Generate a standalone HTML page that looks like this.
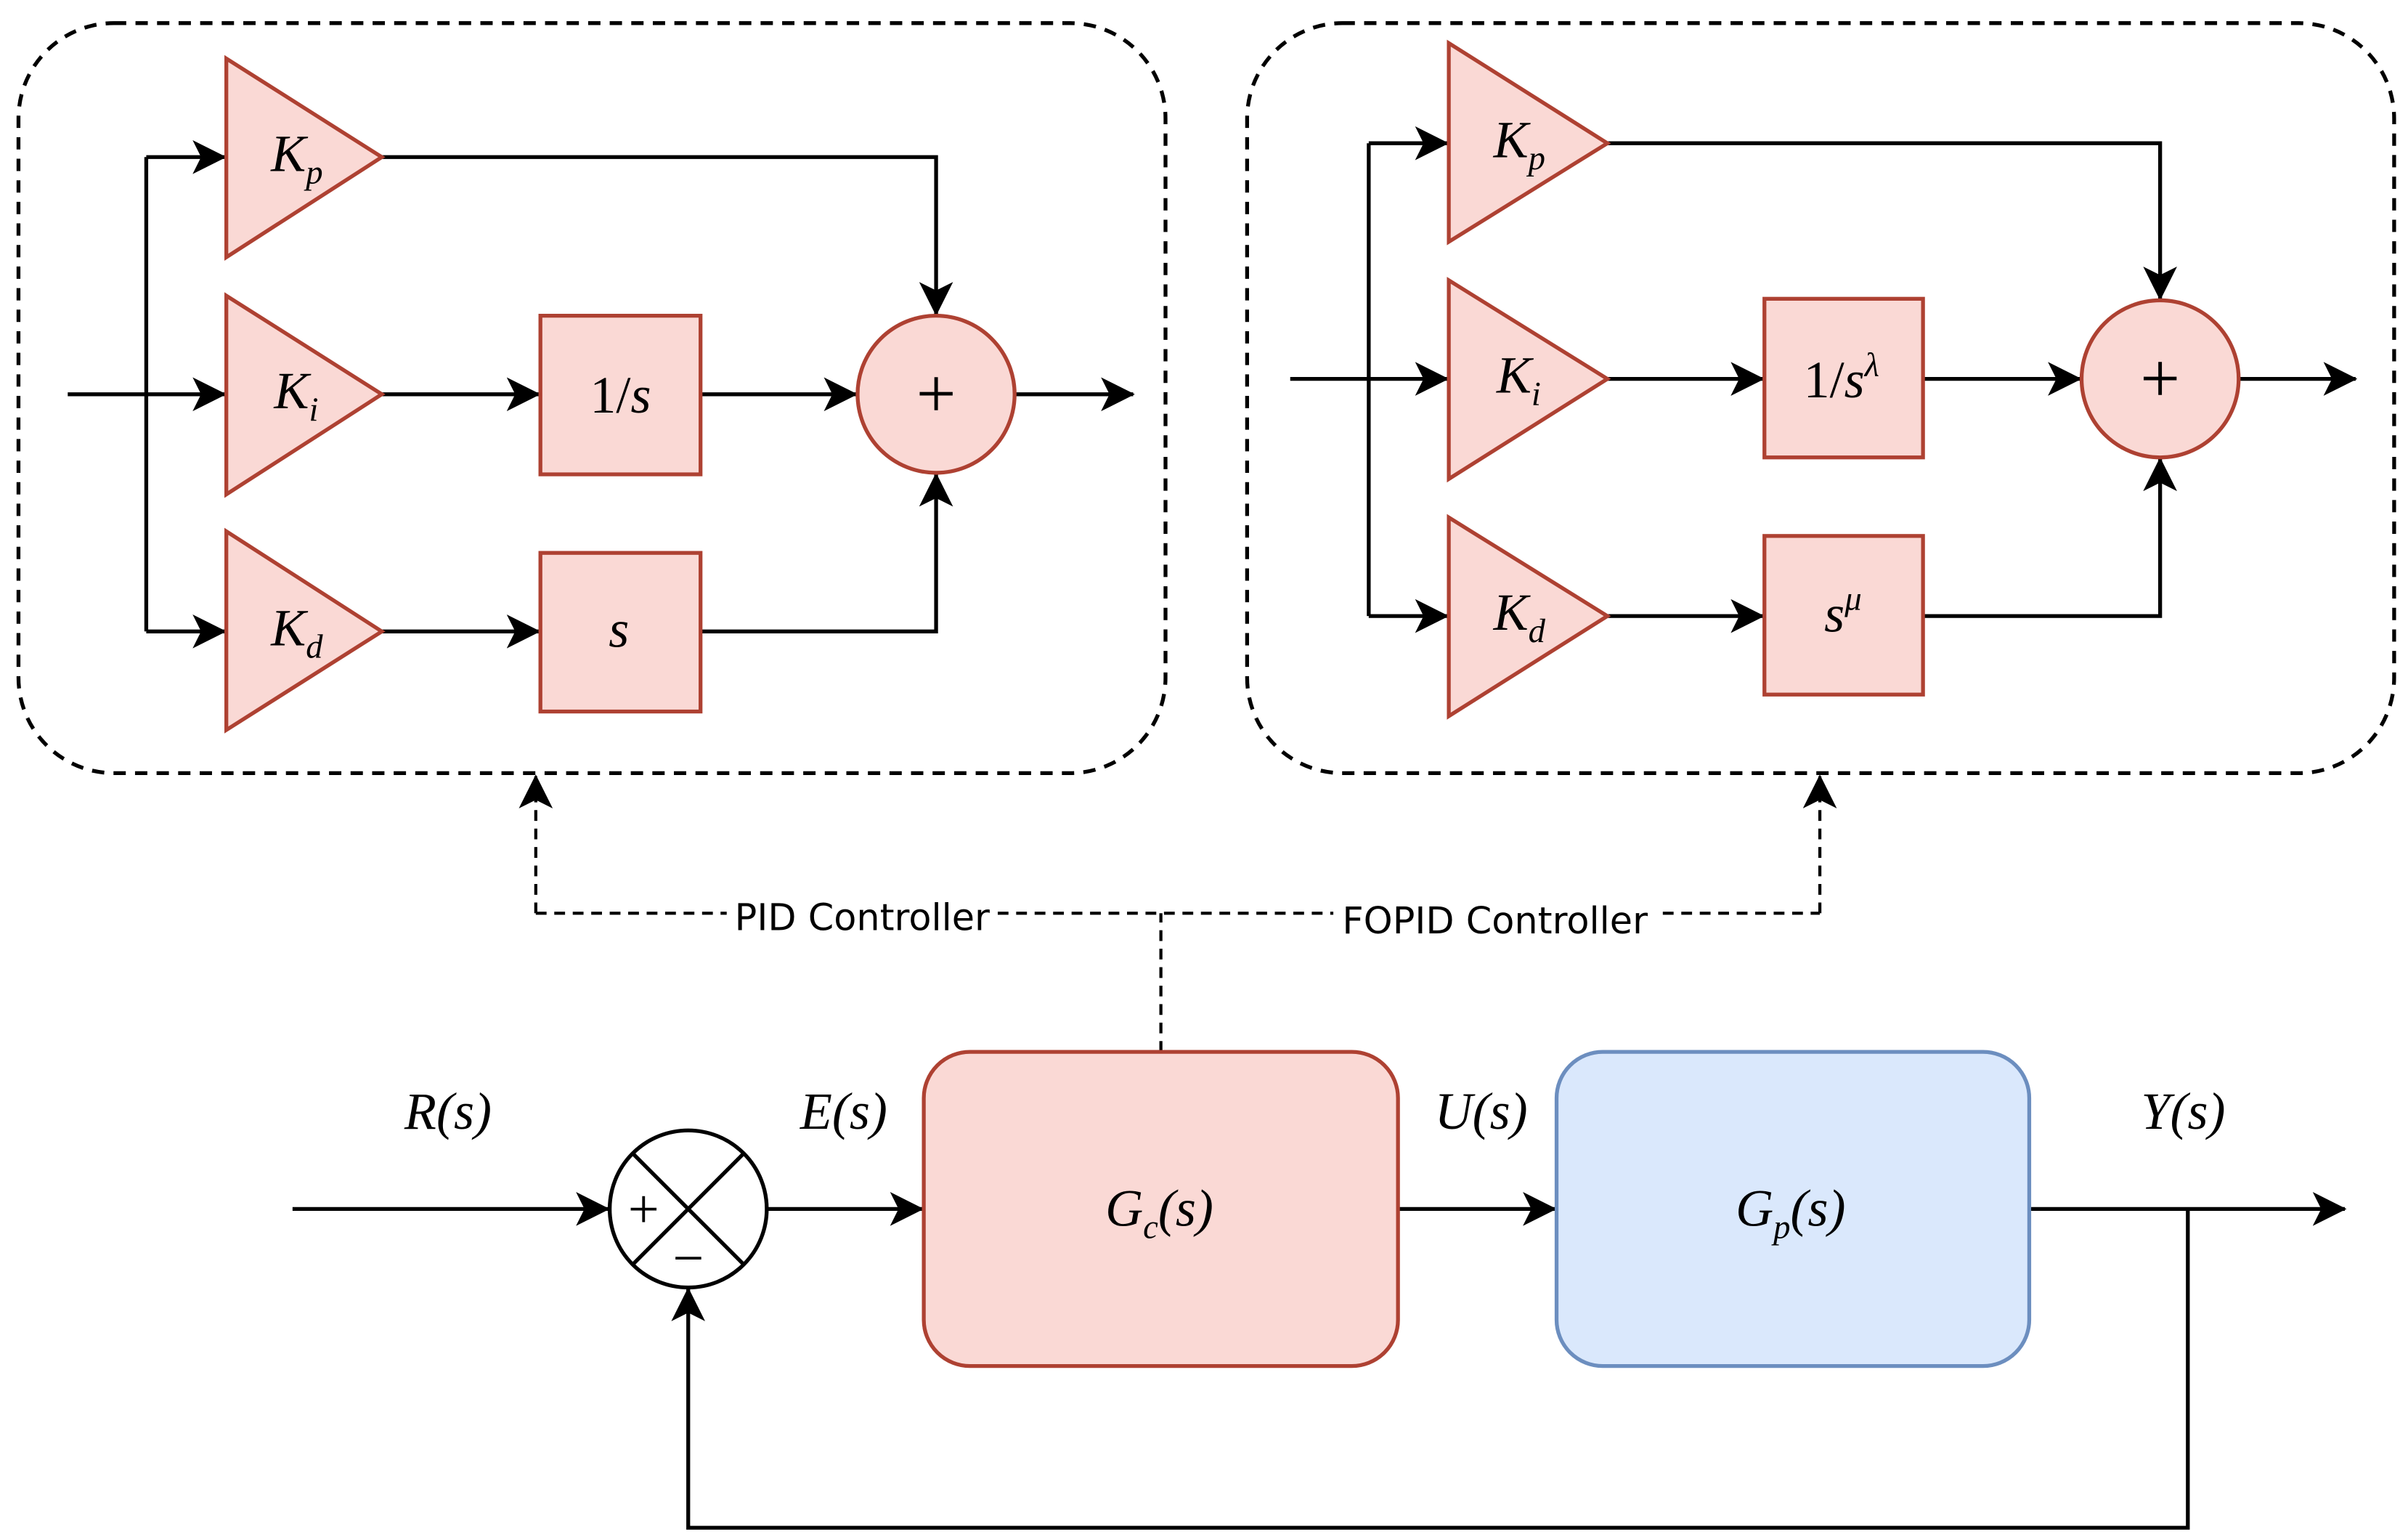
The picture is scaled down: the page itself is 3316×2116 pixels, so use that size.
<!DOCTYPE html>
<html><head><meta charset="utf-8"><style>
html,body{margin:0;padding:0;background:#fff;}
svg{display:block;}
.m{font-family:"Liberation Serif",serif;font-style:italic;font-size:34px;}
.s{font-family:"Liberation Serif",serif;font-style:italic;font-size:22px;}
.l{font-family:"DejaVu Sans","Liberation Sans",sans-serif;font-size:24px;}
</style></head><body>
<svg width="3316" height="2116" viewBox="0 0 1564 998" xmlns="http://www.w3.org/2000/svg">
<defs>
<marker id="a" viewBox="0 0 20 20" refX="19" refY="10" markerWidth="22" markerHeight="22" markerUnits="userSpaceOnUse" orient="auto">
<path d="M0,0 L20,10 L0,20 L5,10 Z" fill="#000"/></marker>
</defs>
<g fill="none" stroke="#000" stroke-width="2.5" stroke-dasharray="8,6">
<rect x="12" y="15" width="745" height="487" rx="62"/>
<rect x="810" y="15" width="745" height="487" rx="62"/>
</g>
<g fill="none" stroke="#000" stroke-width="2" stroke-dasharray="7,5">
<path d="M754,683 V593"/>
<path d="M348,593 H1182"/>
<path d="M348,593 V504" marker-end="url(#a)"/>
<path d="M1182,593 V504" marker-end="url(#a)"/>
</g>
<rect x="472" y="580" width="176" height="28" fill="#fff"/>
<rect x="866" y="582" width="210" height="28" fill="#fff"/>
<text class="l" x="560" y="604" text-anchor="middle">PID Controller</text>
<text class="l" x="971" y="606" text-anchor="middle">FOPID Controller</text>

<!-- PID -->
<g fill="none" stroke="#000" stroke-width="2.5">
<path d="M44,256 H146" marker-end="url(#a)"/>
<path d="M95,102 V410"/>
<path d="M95,102 H146" marker-end="url(#a)"/>
<path d="M95,410 H146" marker-end="url(#a)"/>
<path d="M248,102 H608 V204" marker-end="url(#a)"/>
<path d="M248,256 H350" marker-end="url(#a)"/>
<path d="M455,256 H556" marker-end="url(#a)"/>
<path d="M248,410 H350" marker-end="url(#a)"/>
<path d="M455,410 H608 V308" marker-end="url(#a)"/>
<path d="M659,256 H736" marker-end="url(#a)"/>
</g>
<g fill="#fad9d5" stroke="#ae4132" stroke-width="2.5">
<path d="M147,38 L248,102 L147,167 Z"/>
<path d="M147,192 L248,256 L147,321 Z"/>
<path d="M147,345 L248,410 L147,474 Z"/>
<rect x="351" y="205" width="104" height="103"/>
<rect x="351" y="359" width="104" height="103"/>
<circle cx="608" cy="256" r="51"/>
</g>
<text class="m" x="176" y="111">K<tspan class="s" dy="8">p</tspan></text>
<text class="m" x="178" y="265">K<tspan class="s" dy="8">i</tspan></text>
<text class="m" x="176" y="419">K<tspan class="s" dy="8">d</tspan></text>
<text class="m" x="403" y="268" text-anchor="middle" style="font-style:normal">1/<tspan style="font-style:italic">s</tspan></text>
<text class="m" x="402" y="420" text-anchor="middle">s</text>
<text x="608" y="271" text-anchor="middle" font-family="Liberation Serif,serif" font-size="46">+</text>

<!-- FOPID -->
<g fill="none" stroke="#000" stroke-width="2.5">
<path d="M838,246 H940" marker-end="url(#a)"/>
<path d="M889,93 V400"/>
<path d="M889,93 H940" marker-end="url(#a)"/>
<path d="M889,400 H940" marker-end="url(#a)"/>
<path d="M1044,93 H1403 V194" marker-end="url(#a)"/>
<path d="M1044,246 H1145" marker-end="url(#a)"/>
<path d="M1249,246 H1351" marker-end="url(#a)"/>
<path d="M1044,400 H1145" marker-end="url(#a)"/>
<path d="M1249,400 H1403 V298" marker-end="url(#a)"/>
<path d="M1454,246 H1530" marker-end="url(#a)"/>
</g>
<g fill="#fad9d5" stroke="#ae4132" stroke-width="2.5">
<path d="M941,28 L1044,93 L941,157 Z"/>
<path d="M941,182 L1044,246 L941,311 Z"/>
<path d="M941,336 L1044,400 L941,465 Z"/>
<rect x="1146" y="194" width="103" height="103"/>
<rect x="1146" y="348" width="103" height="103"/>
<circle cx="1403" cy="246" r="51"/>
</g>
<text class="m" x="970" y="102">K<tspan class="s" dy="8">p</tspan></text>
<text class="m" x="972" y="255">K<tspan class="s" dy="8">i</tspan></text>
<text class="m" x="970" y="409">K<tspan class="s" dy="8">d</tspan></text>
<text class="m" x="1196" y="258" text-anchor="middle" style="font-style:normal">1/<tspan style="font-style:italic">s</tspan><tspan class="s" dy="-14" style="font-style:italic">λ</tspan></text>
<text class="m" x="1197" y="410" text-anchor="middle">s<tspan class="s" dy="-14">μ</tspan></text>
<text x="1403" y="261" text-anchor="middle" font-family="Liberation Serif,serif" font-size="46">+</text>

<!-- bottom loop -->
<g fill="none" stroke="#000" stroke-width="2.5">
<path d="M190,785 H395" marker-end="url(#a)"/>
<path d="M498,785 H599" marker-end="url(#a)"/>
<path d="M908,785 H1010" marker-end="url(#a)"/>
<path d="M1318,785 H1523" marker-end="url(#a)"/>
<path d="M1421,785 V992 H447 V837" marker-end="url(#a)"/>
</g>
<rect x="600" y="683" width="308" height="204" rx="30" fill="#fad9d5" stroke="#ae4132" stroke-width="2.5"/>
<rect x="1011" y="683" width="307" height="204" rx="30" fill="#dae8fc" stroke="#6c8ebf" stroke-width="2.5"/>
<circle cx="447" cy="785" r="51" fill="#fff" stroke="#000" stroke-width="2.5"/>
<path d="M411,749 L483,821 M483,749 L411,821" stroke="#000" stroke-width="2.5"/>
<text x="418" y="797" text-anchor="middle" font-family="Liberation Serif,serif" font-size="36">+</text>
<text x="447" y="829" text-anchor="middle" font-family="Liberation Serif,serif" font-size="36">−</text>
<text class="m" x="291" y="733" text-anchor="middle">R(s)</text>
<text class="m" x="548" y="733" text-anchor="middle">E(s)</text>
<text class="m" x="962" y="733" text-anchor="middle">U(s)</text>
<text class="m" x="1418" y="733" text-anchor="middle">Y(s)</text>
<text class="m" x="753" y="796" text-anchor="middle">G<tspan class="s" dy="8">c</tspan><tspan dy="-8">(s)</tspan></text>
<text class="m" x="1163" y="796" text-anchor="middle">G<tspan class="s" dy="8">p</tspan><tspan dy="-8">(s)</tspan></text>
</svg>
</body></html>
